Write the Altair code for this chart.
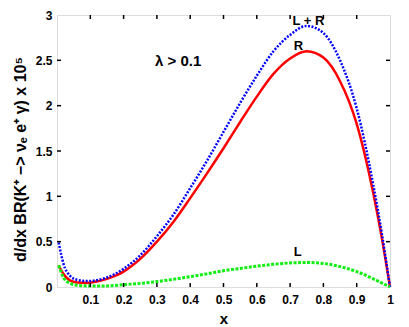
import altair as alt
import pandas as pd

# x positions
xs = [0.005, 0.02, 0.04, 0.06, 0.09, 0.12, 0.15, 0.2, 0.25, 0.3, 0.35, 0.4, 0.45,
      0.5, 0.55, 0.6, 0.65, 0.7, 0.75, 0.8, 0.85, 0.9, 0.95, 0.975, 1.0]
# R (red, solid)
r_vals = [0.24, 0.14, 0.07, 0.05, 0.045, 0.06, 0.09, 0.17, 0.31, 0.50, 0.72, 0.98, 1.25,
          1.53, 1.82, 2.10, 2.35, 2.52, 2.60, 2.53, 2.27, 1.80, 1.03, 0.55, 0.0]
# L (green, dotted)
l_vals = [0.24, 0.10, 0.04, 0.02, 0.012, 0.01, 0.012, 0.025, 0.04, 0.06, 0.085, 0.115, 0.145,
          0.18, 0.205, 0.23, 0.25, 0.265, 0.27, 0.26, 0.225, 0.17, 0.09, 0.045, 0.0]
# L + R (blue, dotted)
lr_vals = [0.49, 0.25, 0.12, 0.08, 0.065, 0.075, 0.105, 0.2, 0.35, 0.56, 0.80, 1.09, 1.39,
           1.71, 2.03, 2.33, 2.60, 2.78, 2.88, 2.80, 2.50, 1.97, 1.12, 0.60, 0.0]

x_ticks = [0.1, 0.2, 0.3, 0.4, 0.5, 0.6, 0.7, 0.8, 0.9, 1.0]
y_ticks = [0, 0.5, 1, 1.5, 2, 2.5, 3]
inner_x_ticks = [0.1, 0.2, 0.3, 0.4, 0.5, 0.6, 0.7, 0.8, 0.9]
inner_y_ticks = [0.5, 1, 1.5, 2, 2.5]

label_text = ["L + R", "R", "L", "λ > 0.1"]
label_x = [0.755, 0.725, 0.723, 0.364]
label_y = [2.93, 2.66, 0.39, 2.49]
label_size = [13, 13, 13, 15]

W, H = 333, 272

df = pd.DataFrame({"x": xs, "R": r_vals, "L": l_vals, "LR": lr_vals})

xscale = alt.Scale(domain=[0, 1], nice=False, zero=False)
yscale = alt.Scale(domain=[0, 3], nice=False)

xaxis = alt.Axis(values=x_ticks, format="~g", title="x", tickSize=0, labelPadding=7,
                 labelOverlap=False, labelBound=False, labelFlush=False, labelSeparation=0,
                 grid=False, domain=False, labelFont="Liberation Sans", labelFontWeight="bold",
                 labelFontSize=12, labelColor="black", titleFont="Liberation Sans",
                 titleFontWeight="bold", titleFontSize=15, titleColor="black",
                 titleY=31, titleBaseline="middle")
yaxis = alt.Axis(values=y_ticks, format="~g",
                 title="d/dx BR(K⁺ −> νₑ e⁺ γ) x 10⁵",
                 tickSize=0, labelPadding=5, grid=False, domain=False,
                 labelOverlap=False, labelBound=False, labelFlush=False,
                 labelFont="Liberation Sans", labelFontWeight="bold", labelFontSize=12,
                 labelColor="black", titleFont="Liberation Sans", titleFontWeight="bold",
                 titleFontSize=16, titleColor="black", titleX=-37, titleY=144,
                 titleAngle=270, titleAlign="center", titleBaseline="middle")

base = alt.Chart(df)

red = base.mark_line(color="#ff0000", strokeWidth=2.5, interpolate="monotone").encode(
    x=alt.X("x:Q", scale=xscale, axis=xaxis),
    y=alt.Y("R:Q", scale=yscale, axis=yaxis),
)
green = base.mark_line(color="#11ee11", strokeWidth=3, strokeDash=[3, 1.5],
                       interpolate="monotone").encode(
    x=alt.X("x:Q", scale=xscale, axis=xaxis), y=alt.Y("L:Q", scale=yscale, axis=yaxis))
blue = base.mark_line(color="#0000ff", strokeWidth=2.5, strokeDash=[2, 1.5],
                      interpolate="monotone").encode(
    x=alt.X("x:Q", scale=xscale, axis=xaxis), y=alt.Y("LR:Q", scale=yscale, axis=yaxis))

xt = pd.DataFrame({"t": inner_x_ticks})
yt = pd.DataFrame({"t": inner_y_ticks})
tick_bottom = alt.Chart(xt).mark_rule(color="black", strokeWidth=1.5).encode(
    x=alt.X("t:Q", scale=xscale, axis=xaxis), y=alt.value(H), y2=alt.value(H - 4))
tick_top = alt.Chart(xt).mark_rule(color="black", strokeWidth=1.5).encode(
    x=alt.X("t:Q", scale=xscale, axis=xaxis), y=alt.value(0), y2=alt.value(4))
tick_left = alt.Chart(yt).mark_rule(color="black", strokeWidth=1.5).encode(
    y=alt.Y("t:Q", scale=yscale, axis=yaxis), x=alt.value(0), x2=alt.value(4))
tick_right = alt.Chart(yt).mark_rule(color="black", strokeWidth=1.5).encode(
    y=alt.Y("t:Q", scale=yscale, axis=yaxis), x=alt.value(W), x2=alt.value(W - 4))

ldf = pd.DataFrame({"text": label_text, "x": label_x, "y": label_y, "s": label_size})
labels = alt.Chart(ldf).mark_text(font="Liberation Sans", fontWeight="bold",
                                  color="black", baseline="middle", align="center").encode(
    x=alt.X("x:Q", scale=xscale, axis=xaxis), y=alt.Y("y:Q", scale=yscale, axis=yaxis),
    text="text:N", size=alt.Size("s:Q", scale=None, legend=None))

chart = alt.layer(red, blue, green, tick_bottom, tick_top, tick_left, tick_right, labels).properties(
    width=W, height=H,
    autosize=alt.AutoSizeParams(type="none"),
    padding={"left": 49, "top": 7, "right": 10, "bottom": 38},
).configure_view(stroke="black", strokeWidth=2).configure(background="white"
).configure_axis(labelOverlap=False, labelSeparation=0)

chart.save("out.html", embed_options={"renderer": "svg", "actions": False})
